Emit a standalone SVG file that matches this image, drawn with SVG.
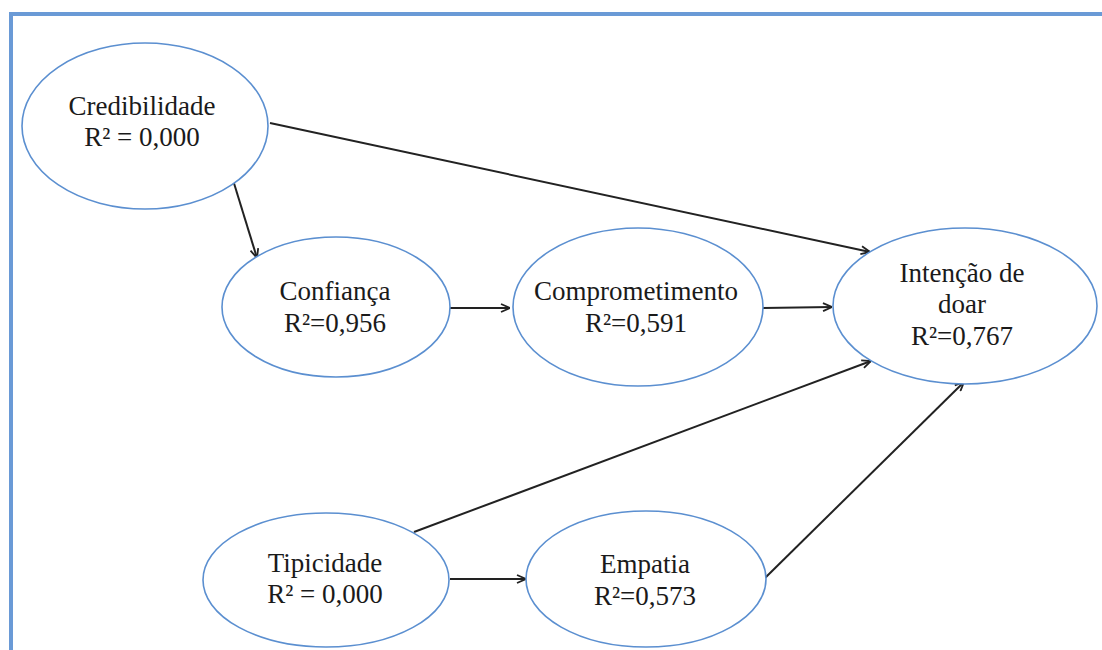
<svg xmlns="http://www.w3.org/2000/svg" width="1102" height="650" viewBox="0 0 1102 650">
<defs>
<style>
.node ellipse{fill:#fff;stroke:#5b8fd0;stroke-width:1.6}
.node text{font-family:"Liberation Serif","Times New Roman",serif;font-size:27px;fill:#1a1a1a;text-anchor:middle}
.conn line{stroke:#222;stroke-width:2;marker-end:url(#arr)}
</style>
<marker id="arr" viewBox="0 0 10 10" refX="10" refY="5" markerWidth="10" markerHeight="10" markerUnits="userSpaceOnUse" orient="auto">
<path d="M1,1 L10,5 L1,9" fill="none" stroke="#222" stroke-width="1.8"/>
</marker>
</defs>
<rect x="0" y="0" width="1102" height="650" fill="#fff"/>
<rect x="11" y="14" width="1100" height="660" fill="none" stroke="#6a9ad6" stroke-width="4"/>
<g id="connectors" class="conn">
<line x1="270" y1="123" x2="870" y2="252"/>
<line x1="233" y1="180" x2="257" y2="258"/>
<line x1="450" y1="308" x2="510" y2="308"/>
<line x1="763" y1="308" x2="832" y2="307"/>
<line x1="414" y1="532" x2="871" y2="361"/>
<line x1="450" y1="579" x2="526" y2="579"/>
<line x1="765" y1="578" x2="964" y2="382"/>
</g>
<g id="credibilidade" class="node">
<ellipse cx="145" cy="126" rx="123" ry="83"/>
<text x="142" y="115">Credibilidade</text>
<text x="142" y="146">R² = 0,000</text>
</g>
<g id="confianca" class="node">
<ellipse cx="336" cy="307" rx="114" ry="70"/>
<text x="335" y="300">Confiança</text>
<text x="335" y="332">R²=0,956</text>
</g>
<g id="comprometimento" class="node">
<ellipse cx="638" cy="307" rx="125" ry="79"/>
<text x="636" y="300">Comprometimento</text>
<text x="636" y="332">R²=0,591</text>
</g>
<g id="intencao" class="node">
<ellipse cx="965" cy="306" rx="132" ry="78"/>
<text x="962" y="282">Intenção de</text>
<text x="962" y="313">doar</text>
<text x="962" y="345">R²=0,767</text>
</g>
<g id="tipicidade" class="node">
<ellipse cx="326" cy="580" rx="123" ry="67"/>
<text x="325" y="572">Tipicidade</text>
<text x="325" y="603">R² = 0,000</text>
</g>
<g id="empatia" class="node">
<ellipse cx="646" cy="579" rx="120" ry="68"/>
<text x="645" y="573">Empatia</text>
<text x="645" y="605">R²=0,573</text>
</g>
</svg>
